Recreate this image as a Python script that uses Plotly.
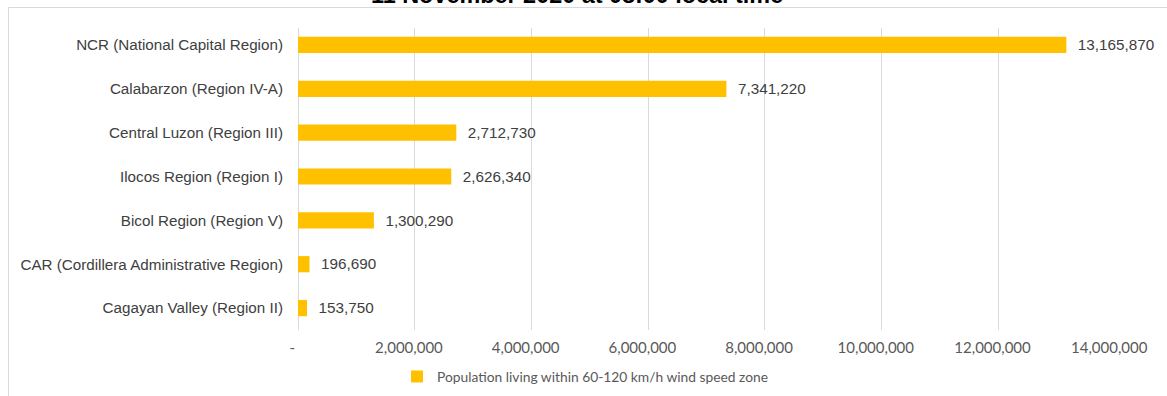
import plotly.graph_objects as go

regions = [
    "NCR (National Capital Region)",
    "Calabarzon (Region IV-A)",
    "Central Luzon (Region III)",
    "Ilocos Region (Region I)",
    "Bicol Region (Region V)",
    "CAR (Cordillera Administrative Region)",
    "Cagayan Valley (Region II)",
]
population = [13165870, 7341220, 2712730, 2626340, 1300290, 196690, 153750]
tick_vals = [0, 2000000, 4000000, 6000000, 8000000, 10000000, 12000000, 14000000]
tick_text = ["-", "2,000,000", "4,000,000", "6,000,000", "8,000,000",
             "10,000,000", "12,000,000", "14,000,000"]
series_name = "Population living within 60-120 km/h wind speed zone"
title_text = "11 November 2020 at 08:00 local time"

W, H = 1167, 396
L, R, T, B = 298, 1115, 23, 330


def px(x):
    return (x - L) / (R - L)


def py(y):
    return (B - y) / (B - T)


GOLD = "#FFC000"

fig = go.Figure()
fig.add_trace(go.Bar(
    y=regions, x=population, orientation="h",
    marker=dict(color=GOLD, line=dict(width=0)),
    width=0.37,
    text=population,
    texttemplate="\u00a0\u00a0%{x:,}",
    textposition="outside",
    cliponaxis=False,
    textfont=dict(family="Liberation Sans, Arial", size=16, color="#404040"),
    showlegend=False,
    name=series_name,
))
# legend proxy
fig.add_trace(go.Scatter(
    x=[None], y=[None], mode="markers", name=series_name,
    marker=dict(symbol="square", size=8, color=GOLD),
    showlegend=True,
))

fig.update_layout(
    width=W, height=H,
    margin=dict(l=L, r=W - R, t=T, b=H - B, pad=0, autoexpand=False),
    paper_bgcolor="white", plot_bgcolor="white",
    xaxis=dict(
        range=[0, 14000000],
        tickvals=tick_vals,
        ticktext=[t + "\u00a0\u00a0\u00a0" for t in tick_text],
        showgrid=True, gridcolor="#d9d9d9", gridwidth=1,
        zeroline=True, zerolinecolor="#d9d9d9", zerolinewidth=1,
        showline=False,
        ticks="outside", ticklen=4, tickcolor="rgba(0,0,0,0)",
        tickfont=dict(family="Lato", size=15, color="#595959"),
        fixedrange=True,
    ),
    yaxis=dict(
        categoryorder="array", categoryarray=regions,
        autorange="reversed",
        showgrid=False, showline=False, zeroline=False,
        ticks="outside", ticklen=11, tickcolor="rgba(0,0,0,0)",
        tickfont=dict(family="Liberation Sans, Arial", size=15.2, color="#404040"),
        fixedrange=True,
    ),
    legend=dict(
        orientation="h",
        x=px(397), xanchor="left",
        y=py(361), yanchor="top",
        font=dict(family="Lato", size=13.8, color="#595959"),
        itemsizing="constant",
        bgcolor="rgba(0,0,0,0)",
    ),
    shapes=[
        dict(type="rect", xref="paper", yref="paper", layer="above",
             x0=px(290), x1=px(1125), y0=py(21), y1=py(28),
             fillcolor="white", line=dict(width=0)),
        dict(type="line", xref="paper", yref="paper",
             x0=px(8.5), x1=px(W + 5), y0=py(7.5), y1=py(7.5),
             line=dict(color="#d9d9d9", width=1)),
        dict(type="line", xref="paper", yref="paper",
             x0=px(8.5), x1=px(8.5), y0=py(7.5), y1=py(H + 5),
             line=dict(color="#d9d9d9", width=1)),
    ],
    annotations=[
        dict(text="<b>" + title_text + "</b>", xref="paper", yref="paper",
             x=px(577), y=py(10), xanchor="center", yanchor="bottom",
             showarrow=False,
             font=dict(family="Liberation Sans, Arial", size=23.4, color="#000000")),
    ],
)

fig.write_html("out.html", config={"displayModeBar": False})
